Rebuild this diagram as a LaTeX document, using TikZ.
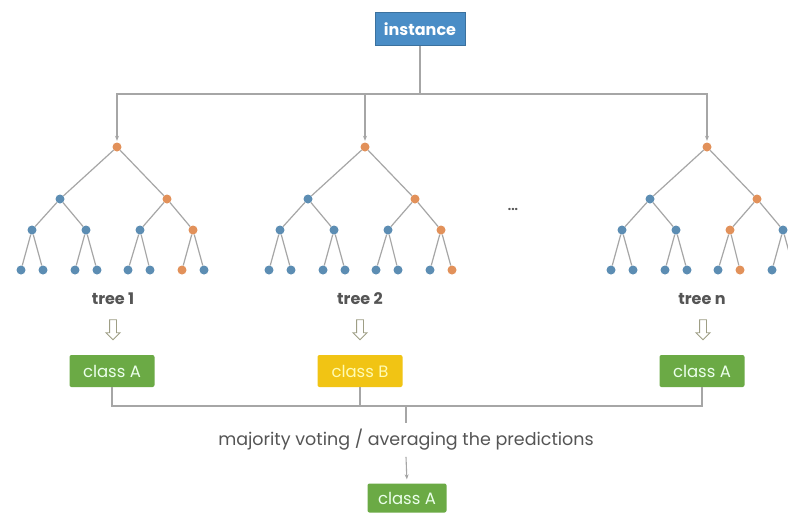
\documentclass[tikz,border=0pt]{standalone}
\usepackage{fontspec}
\setmainfont{Poppins}
\usetikzlibrary{shapes.arrows,arrows.meta}
\definecolor{lineg}{HTML}{A6A6A6}
\definecolor{blu}{HTML}{5C8DB3}
\definecolor{orng}{HTML}{E2915A}
\definecolor{instblue}{HTML}{4A8DC6}
\definecolor{grn}{HTML}{6BAA45}
\definecolor{yel}{HTML}{F1C414}
\definecolor{txtg}{HTML}{555555}
\tikzset{
  conn/.style={draw=lineg, line width=1.1pt},
  arr/.style={conn, -{Stealth[length=5pt,width=4pt]}},
  edge/.style={draw=lineg, line width=1.2pt},
  tnode/.style={circle, minimum size=9pt, inner sep=0pt},
  instbox/.style={fill=instblue, draw=instblue!80!black, line width=0.6pt, minimum width=90pt, minimum height=33pt, text=white, font=\bfseries\fontsize{16}{18}\selectfont},
  classbox/.style={rounded corners=2pt, minimum width=85pt, minimum height=32pt, font=\fontsize{16.5}{18}\selectfont},
  greenbox/.style={classbox, fill=grn, text=green!8!white},
  yellowbox/.style={classbox, fill=yel, text=yellow!30!white},
  treelabel/.style={text=txtg, font=\bfseries\fontsize{16}{18}\selectfont},
  hollow/.style={single arrow, draw=lineg!80!olive, fill=white, line width=0.9pt, shape border rotate=270, minimum height=20pt, inner sep=3pt, single arrow head extend=3.5pt},
}
\newcommand\mytree[4]{%
  \foreach \i/\x/\y in {0/117/147, 1/60/199, 2/167/199, 3/32/230, 4/86/230, 5/140/230, 6/193/230,
      7/21/270, 8/43/270, 9/75/270, 10/97/270, 11/128/270, 12/150/270, 13/182/270, 14/204/270}{
    \pgfmathtruncatemacro\isor{(\i==0)||(\i==2)||(\i==#3)||(\i==#4)}
    \ifnum\isor=1 \def\col{orng}\else\def\col{blu}\fi
    \node[tnode, fill=\col] (#1-\i) at (\x+#2,\y) {};
  }
  \foreach \p/\c in {0/1,0/2,1/3,1/4,2/5,2/6,3/7,3/8,4/9,4/10,5/11,5/12,6/13,6/14}
    \draw[edge] (#1-\p) -- (#1-\c);
}
\begin{document}
\begin{tikzpicture}[x=1pt,y=-1pt]
\useasboundingbox (0,0) rectangle (788,515);
\fill[white] (0,0) rectangle (788,515);

\node[instbox] (inst) at (420,29) {instance};
\coordinate (split) at (420,94);

\mytree{ta}{0}{6}{13}
\mytree{tb}{248}{6}{14}
\mytree{tc}{590}{5}{12}

\node[text=txtg, font=\bfseries\fontsize{12}{14}\selectfont] (dots) at (513,209) {...};

\draw[conn] (inst.south) -- (split);
\draw[arr, shorten >=1.5pt] (split) -| (ta-0.north);
\draw[arr, shorten >=1.5pt] (split) -| (tb-0.north);
\draw[arr, shorten >=1.5pt] (split) -| (tc-0.north);

\node[treelabel] (l1) at (113,299) {tree 1};
\node[treelabel] (l2) at (360,299) {tree 2};
\node[treelabel] (l3) at (702,299) {tree n};

\node[hollow] (h1) at (113,328) {};
\node[hollow] (h2) at (360,328) {};
\node[hollow] (h3) at (703,328) {};

\node[greenbox] (c1) at (112,371) {class A};
\node[yellowbox] (c2) at (360,371) {class B};
\node[greenbox] (c3) at (702,371) {class A};

\coordinate (vote) at (406,406);
\draw[conn] (c1.south) |- (vote) -| (c3.south);
\draw[conn] (c2.south) -- (c2.south |- vote);

\node[text=txtg, font=\fontsize{17.5}{20}\selectfont, inner sep=6pt] (mv) at (406,440) {majority voting / averaging the predictions};
\draw[conn] (vote) -- (mv.north);

\node[greenbox, minimum width=79pt, minimum height=29pt] (fin) at (407,498) {class A};
\draw[arr, shorten >=4pt] (mv.south) -- (fin.north);
\end{tikzpicture}
\end{document}
